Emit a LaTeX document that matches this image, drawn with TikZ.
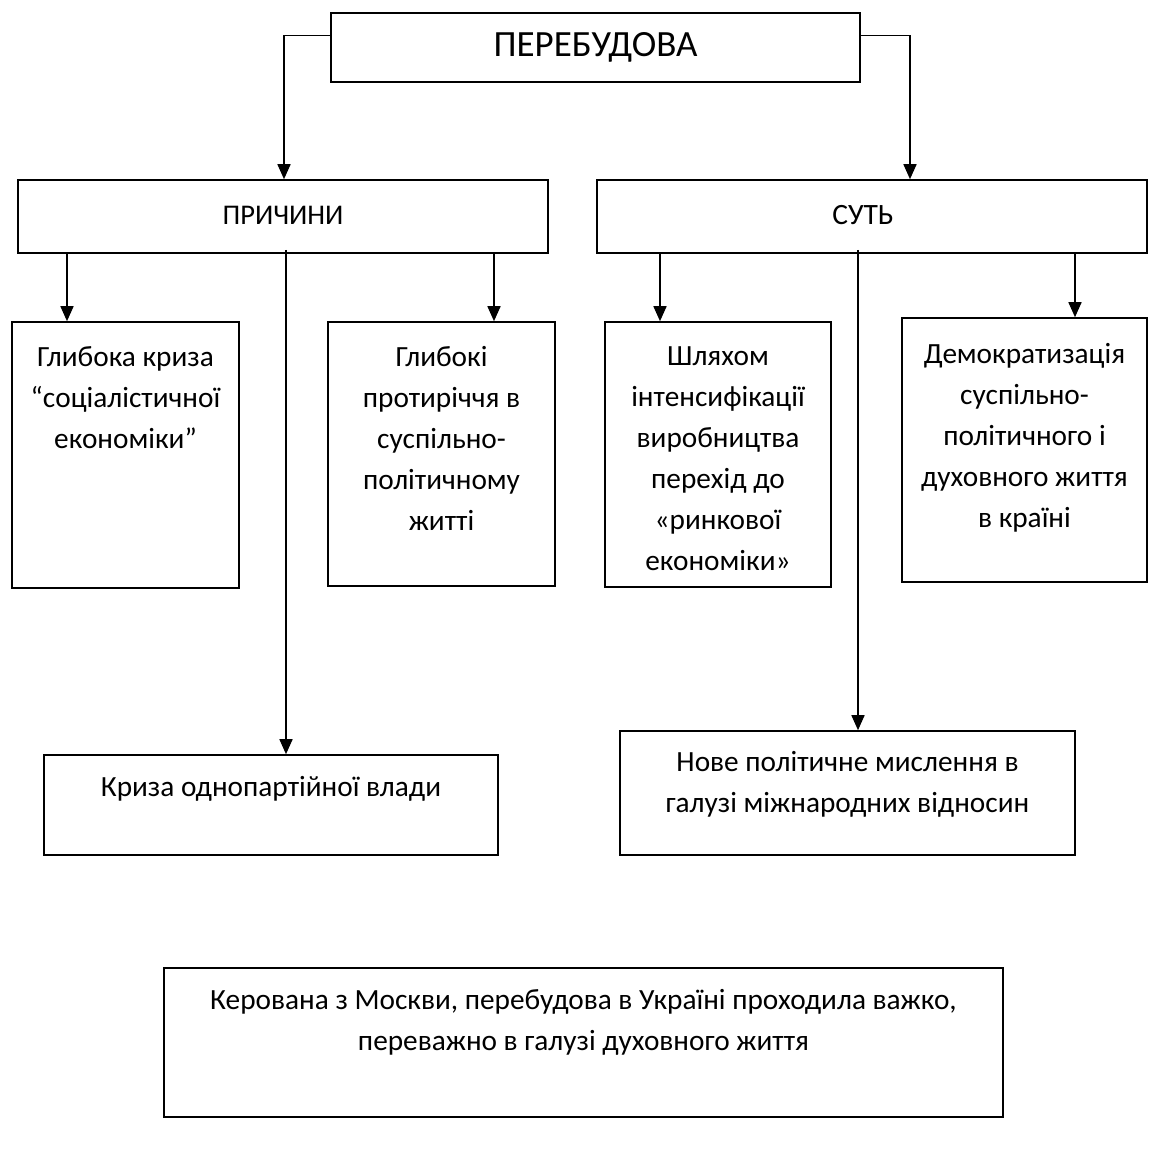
\documentclass[tikz,border=0pt]{standalone}
\usepackage{fontspec}
\setmainfont{Carlito}
\usetikzlibrary{arrows.meta,calc}
\begin{document}
\begin{tikzpicture}[x=1pt,y=-1pt,
  box/.style={draw, line width=1.6pt, inner sep=0pt, rectangle},
  txt/.style={inner sep=0pt, align=center, font=\fontsize{29.3}{41}\selectfont},
  arr/.style={line width=1.6pt, -{Triangle[length=15pt,width=13pt]}}]
\useasboundingbox (0,0) rectangle (1149,1160);
% boxes
\node[box, minimum width=529pt, minimum height=69pt, font=\fontsize{37}{40}\selectfont] (top) at (595.5,47.5) {\raisebox{-1.5pt}{ПЕРЕБУДОВА}};
\node[box, minimum width=530pt, minimum height=73pt, font=\fontsize{28.5}{41}\selectfont] (prich) at (283,216.5) {\raisebox{3pt}{ПРИЧИНИ}};
\node[box, minimum width=550pt, minimum height=73pt, font=\fontsize{29.5}{41}\selectfont] (sut) at (872,216.5) {\raisebox{3pt}{СУТЬ}\hspace*{18pt}};
\node[box, minimum width=227pt, minimum height=266pt] (b1) at (125.5,455) {};
\node[box, minimum width=227pt, minimum height=264pt] (b2) at (441.5,454) {};
\node[box, minimum width=226pt, minimum height=265pt] (b3) at (718,454.5) {};
\node[box, minimum width=245pt, minimum height=264pt] (b4) at (1024.5,450) {};
\node[box, minimum width=454pt, minimum height=100pt] (kr) at (271,805) {};
\node[box, minimum width=455pt, minimum height=124pt] (nov) at (847.5,793) {};
\node[box, minimum width=839pt, minimum height=149pt] (bot) at (583.5,1042.5) {};
% texts
\node[txt, anchor=north] (t1) at ([yshift=-25pt]b1.north) {Глибока криза\\“соціалістичної\\економіки”};
\node[txt, anchor=north] (t2) at ([yshift=-25pt]b2.north) {Глибокі\\протиріччя в\\суспільно-\\політичному\\житті};
\node[txt, anchor=north] (t3) at ([yshift=-25pt]b3.north) {Шляхом\\інтенсифікації\\виробництва\\перехід до\\«ринкової\\економіки»};
\node[txt, anchor=north] (t4) at ([yshift=-26pt]b4.north) {Демократизація\\суспільно-\\політичного і\\духовного життя\\в країні};
\node[txt, anchor=north] (t5) at ([yshift=-22pt]kr.north) {Криза однопартійної влади};
\node[txt, anchor=north] (t6) at ([yshift=-21pt]nov.north) {Нове політичне мислення в\\галузі міжнародних відносин};
\node[txt, anchor=north] (t7) at ([yshift=-22pt]bot.north) {Керована з Москви, перебудова в Україні проходила важко,\\переважно в галузі духовного життя};
% connectors
\coordinate (tl) at ($(top.north west)!0.33!(top.south west)$);
\coordinate (tr) at ($(top.north east)!0.33!(top.south east)$);
\draw[arr] (tl) -| ([xshift=1pt]prich.north);
\draw[arr] (tr) -| ([xshift=38pt]sut.north);
\draw[arr] ([xshift=-216pt]prich.south) -- ([xshift=-58.5pt]b1.north);
\draw[arr] ([xshift=211pt]prich.south) -- ([xshift=52.5pt]b2.north);
\draw[arr] ([xshift=3pt,yshift=4pt]prich.south) -- ([xshift=15pt]kr.north);
\draw[arr] ([xshift=-212pt]sut.south) -- ([xshift=-58pt]b3.north);
\draw[arr] ([xshift=203pt]sut.south) -- ([xshift=50.5pt]b4.north);
\draw[arr] ([xshift=-14pt,yshift=4pt]sut.south) -- ([xshift=10.5pt]nov.north);
\end{tikzpicture}
\end{document}
